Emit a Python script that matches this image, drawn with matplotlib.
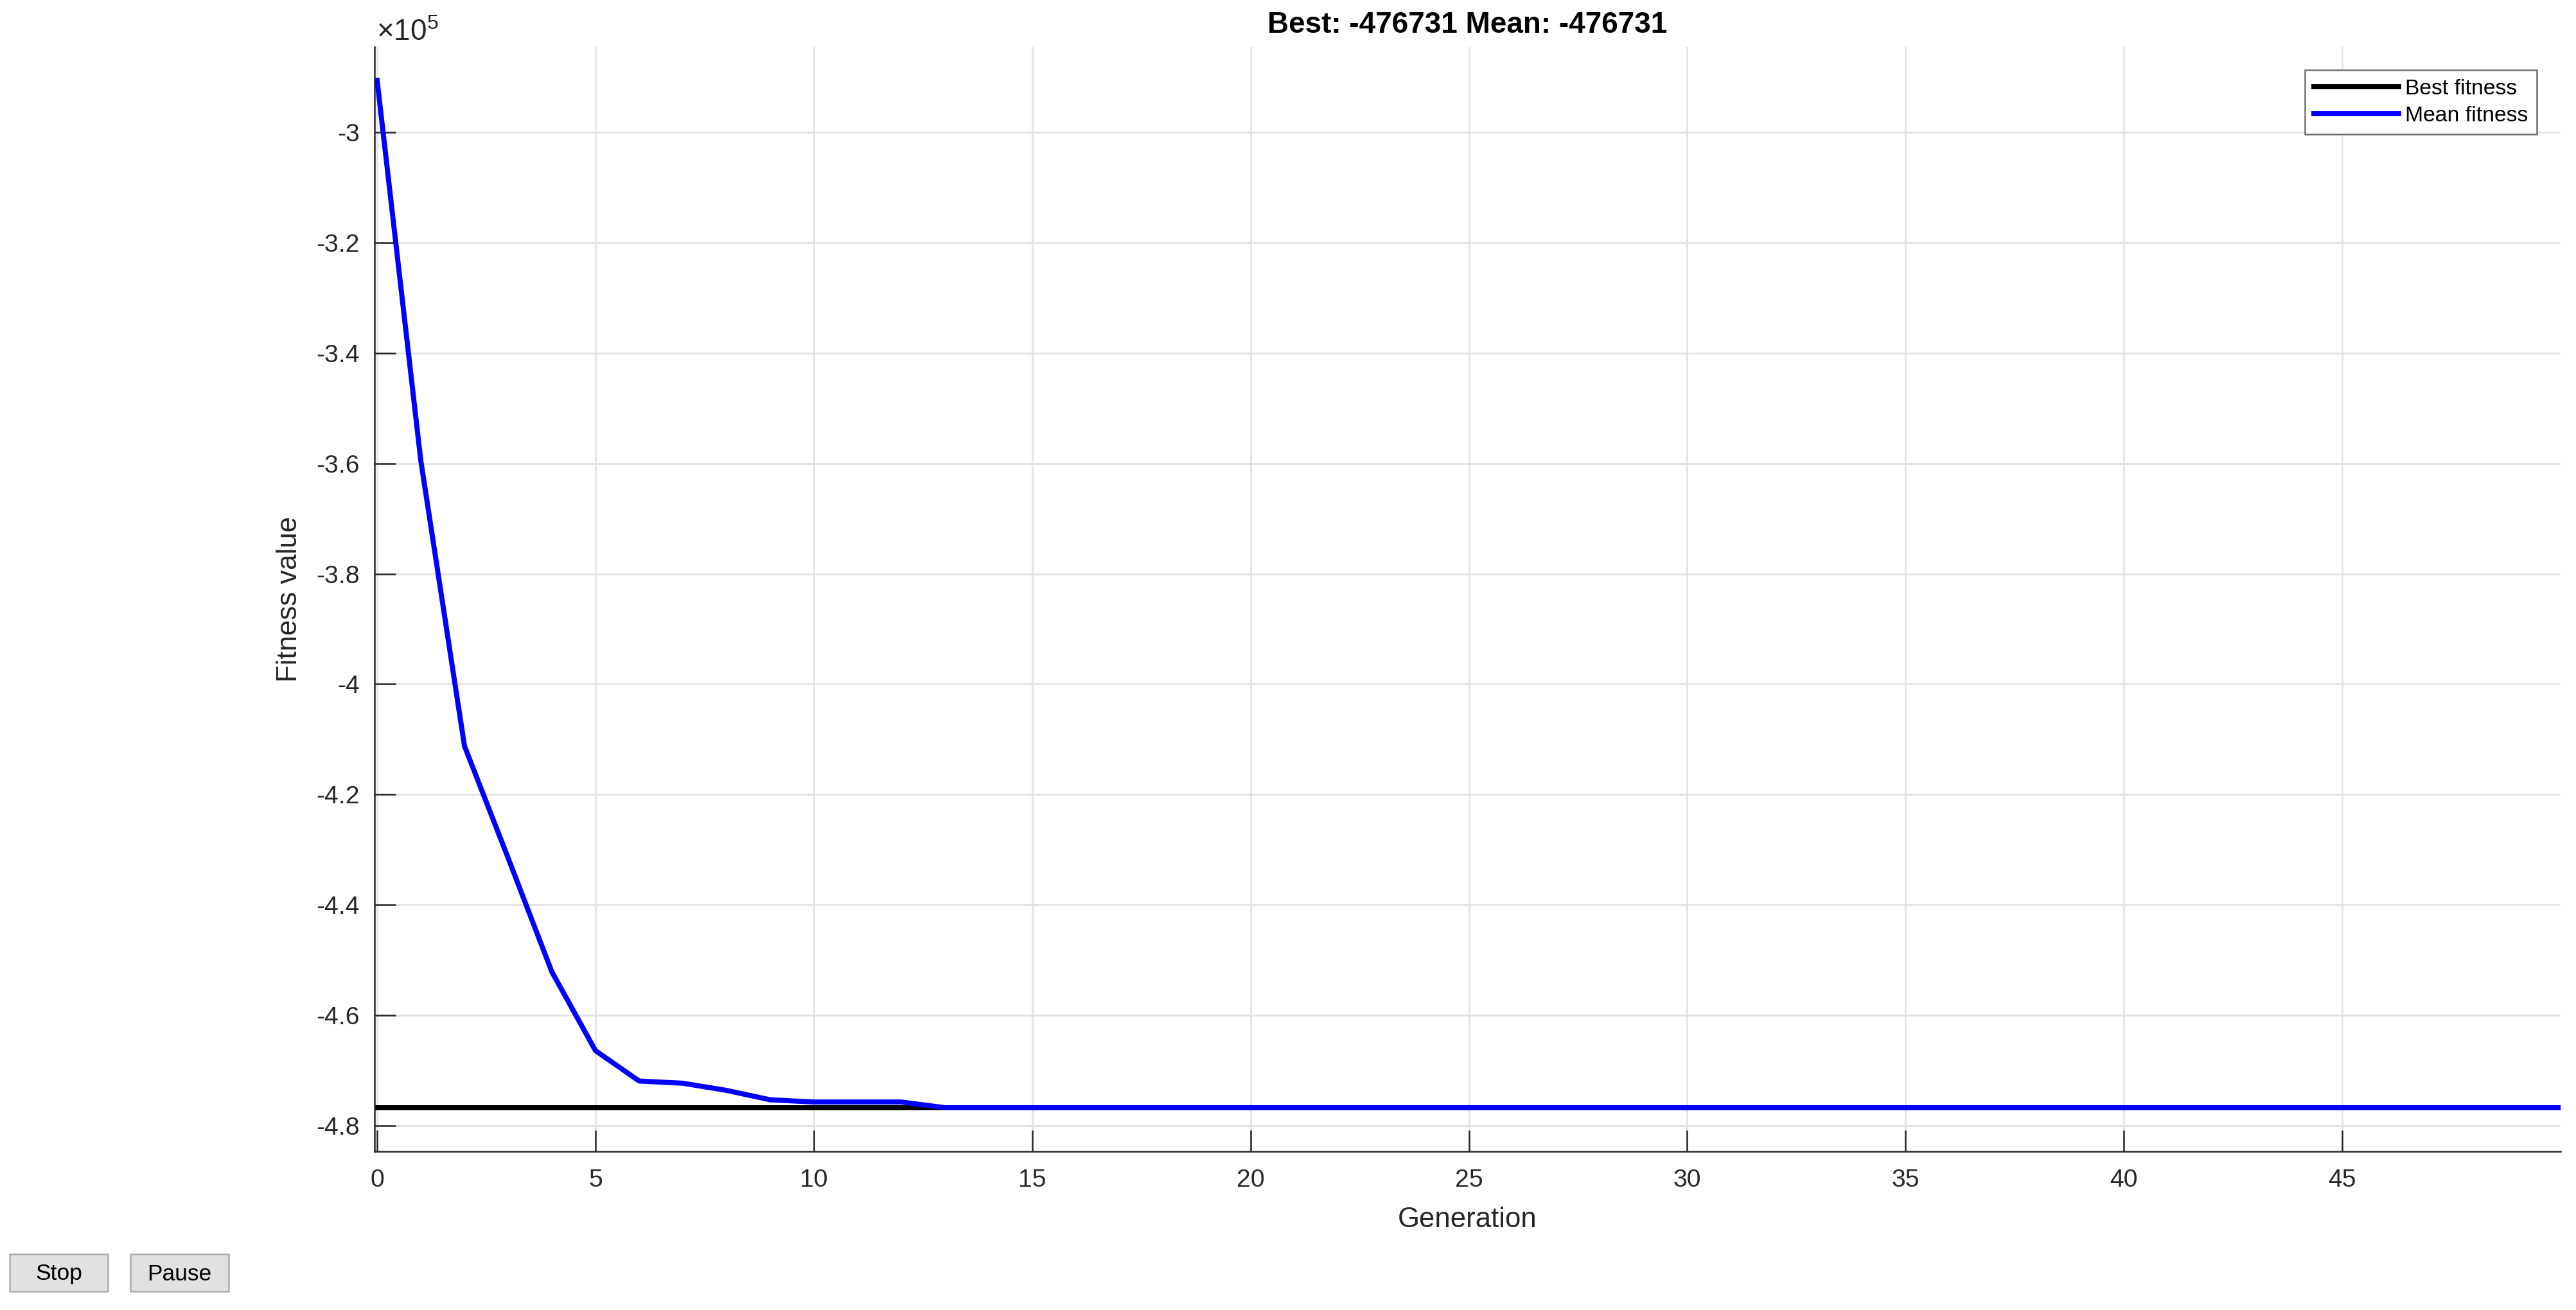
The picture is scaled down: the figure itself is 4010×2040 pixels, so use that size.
import matplotlib
matplotlib.use("Agg")
import matplotlib.pyplot as plt
from matplotlib.patches import Rectangle
from matplotlib.ticker import FuncFormatter

plt.rcParams['font.family'] = ['Liberation Sans', 'DejaVu Sans']
plt.rcParams['mathtext.fontset'] = 'custom'
plt.rcParams['mathtext.rm'] = 'Liberation Sans'
plt.rcParams['mathtext.it'] = 'Liberation Sans'

# data
generation = [0, 1, 2, 3, 4, 5, 6, 7, 8, 9, 10, 11, 12, 13, 14, 15, 16, 17, 18, 19,
              20, 21, 22, 23, 24, 25, 26, 27, 28, 29, 30, 31, 32, 33, 34, 35, 36, 37,
              38, 39, 40, 41, 42, 43, 44, 45, 46, 47, 48, 49, 50]
best_fitness = [-476731, -476731, -476731, -476731, -476731, -476731, -476731, -476731,
                -476731, -476731, -476731, -476731, -476731, -476731, -476731, -476731,
                -476731, -476731, -476731, -476731, -476731, -476731, -476731, -476731,
                -476731, -476731, -476731, -476731, -476731, -476731, -476731, -476731,
                -476731, -476731, -476731, -476731, -476731, -476731, -476731, -476731,
                -476731, -476731, -476731, -476731, -476731, -476731, -476731, -476731,
                -476731, -476731, -476731]
mean_fitness = [-290600, -359500, -411200, -431500, -452100, -466400, -471900, -472300,
                -473600, -475300, -475700, -475700, -475700, -476731, -476731, -476731,
                -476731, -476731, -476731, -476731, -476731, -476731, -476731, -476731,
                -476731, -476731, -476731, -476731, -476731, -476731, -476731, -476731,
                -476731, -476731, -476731, -476731, -476731, -476731, -476731, -476731,
                -476731, -476731, -476731, -476731, -476731, -476731, -476731, -476731,
                -476731, -476731, -476731]
y_ticks = [-480000, -460000, -440000, -420000, -400000, -380000, -360000, -340000,
           -320000, -300000]
x_ticks = [0, 5, 10, 15, 20, 25, 30, 35, 40, 45]
title_text = "Best: -476731 Mean: -476731"

W, H = 4011, 2040
fig = plt.figure(figsize=(W / 300, H / 300), dpi=300)
fig.patch.set_facecolor('white')

ax_l, ax_r, ax_t, ax_b = 583, 3986, 73, 1793
ax = fig.add_axes([ax_l / W, 1 - ax_b / H, (ax_r - ax_l) / W, (ax_b - ax_t) / H])

ax.plot(generation, best_fitness, color='black', lw=1.9, label='Best fitness',
        solid_joinstyle='round')
ax.plot(generation, mean_fitness, color='#0000ff', lw=1.9, label='Mean fitness',
        solid_joinstyle='round')

ax.set_xlim(-0.06, 50)
ax.set_ylim(-484650, -284530)
ax.set_xticks(x_ticks)
ax.set_yticks(y_ticks)
ax.yaxis.set_major_formatter(FuncFormatter(lambda v, p: '%g' % (v / 1e5)))

ax.grid(True, color='#e4e4e4', lw=0.7)
ax.set_axisbelow(True)
for s in ['top', 'right']:
    ax.spines[s].set_visible(False)
for s in ['left', 'bottom']:
    ax.spines[s].set_color('#262626')
    ax.spines[s].set_linewidth(0.6)

ax.tick_params(direction='in', length=8, width=0.6, color='#262626',
               labelcolor='#262626', labelsize=9.4)
ax.tick_params(axis='x', pad=6.5)
ax.tick_params(axis='y', pad=5.5)

ax.set_xlabel('Generation', fontsize=10.5, color='#262626')
ax.xaxis.set_label_coords(0.5, -0.05)
ax.set_ylabel('Fitness value', fontsize=10.5, color='#262626')
ax.yaxis.set_label_coords(-0.033, 0.5)
ax.set_title(title_text, fontsize=11, fontweight='bold', pad=5.2)

fig.text(586 / W, 1 - 63 / H, r'$\times 10^{5}$', fontsize=11, color='#262626',
         ha='left', va='baseline')

leg = ax.legend(loc='upper right', bbox_to_anchor=(0.989, 0.979), borderaxespad=0,
                fontsize=8.1, handlelength=3.9, handletextpad=0.3, labelspacing=0.33,
                borderpad=0.4, fancybox=False, framealpha=1)
leg.get_frame().set_edgecolor('#6e6e6e')
leg.get_frame().set_linewidth(0.6)
for ln in leg.get_lines():
    ln.set_linewidth(1.9)

# Stop / Pause buttons below the axes
for label, x0, x1 in [('Stop', 15, 168), ('Pause', 203, 356)]:
    y0, y1 = 1953, 2011
    fig.patches.append(Rectangle((x0 / W, 1 - y1 / H), (x1 - x0) / W, (y1 - y0) / H,
                                 transform=fig.transFigure, facecolor='#e1e1e1',
                                 edgecolor='#adadad', lw=0.6))
    fig.text((x0 + x1) / 2 / W, 1 - 1984 / H, label, fontsize=8.5, ha='center',
             va='center', color='black')

fig.savefig('out.png', dpi=300, facecolor='white')
